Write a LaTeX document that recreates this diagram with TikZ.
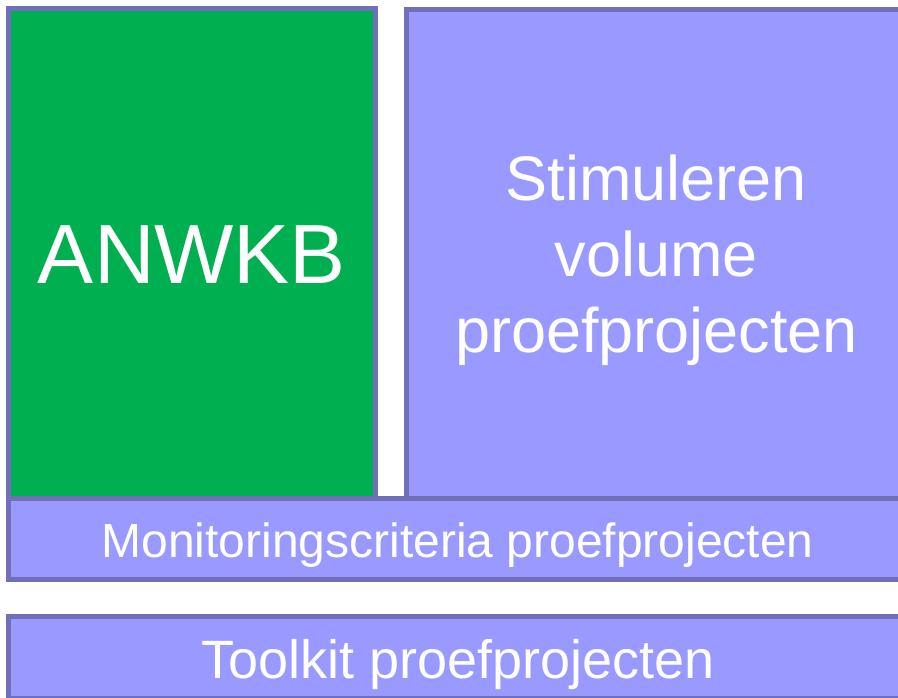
\documentclass[tikz,border=0pt]{standalone}
\usepackage{fontspec}
\setmainfont{Liberation Sans}
\definecolor{boxgreen}{RGB}{0,176,80}
\definecolor{boxfill}{RGB}{153,153,255}
\definecolor{boxline}{RGB}{112,112,184}
\begin{document}
\begin{tikzpicture}[x=0.75pt,y=-0.75pt,
  panel/.style={draw=boxline,line width=3.75pt},
  lbl/.style={text=white,inner sep=0pt,anchor=base}]
\useasboundingbox (0,0) rectangle (898,697);
\path[panel,fill=boxgreen] (8.5,8.5) rectangle (375.5,498);
\path[panel,fill=boxfill] (406.5,9) rectangle (906,498);
\path[panel,fill=boxfill] (8.5,498) rectangle (906,579.5);
\path[panel,fill=boxfill] (8.5,616) rectangle (906,698);
\node[lbl,font=\fontsize{63}{63}\selectfont] (anwkb) at (192,283) {ANWKB};
\node[lbl,font=\fontsize{47.25}{57}\selectfont] (stim) at (656.5,200) {Stimuleren};
\node[lbl,font=\fontsize{47.25}{57}\selectfont] (vol) at (656.5,276) {volume};
\node[lbl,font=\fontsize{47.25}{57}\selectfont] (proef) at (656.5,352) {proefprojecten};
\node[lbl,font=\fontsize{36}{40}\selectfont] (mon) at (457.5,557) {Monitoringscriteria proefprojecten};
\node[lbl,font=\fontsize{40.5}{45}\selectfont] (tool) at (458,678.5) {Toolkit proefprojecten};
\end{tikzpicture}
\end{document}
